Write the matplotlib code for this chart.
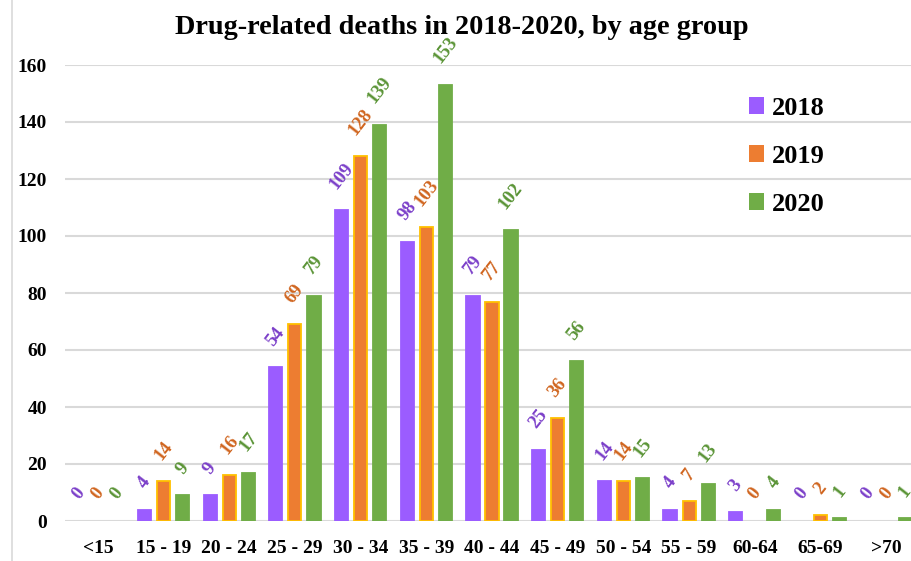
import numpy as np
import matplotlib
matplotlib.use("Agg")
import matplotlib.pyplot as plt
from matplotlib.lines import Line2D

# Drug-related deaths per age group, three years side by side
age_groups = ["<15", "15 - 19", "20 - 24", "25 - 29", "30 - 34", "35 - 39", "40 - 44",
              "45 - 49", "50 - 54", "55 - 59", "60-64", "65-69", ">70"]
deaths_2018 = [0, 4, 9, 54, 109, 98, 79, 25, 14, 4, 3, 0, 0]
deaths_2019 = [0, 14, 16, 69, 128, 103, 77, 36, 14, 7, 0, 2, 0]
deaths_2020 = [0, 9, 17, 79, 139, 153, 102, 56, 15, 13, 4, 1, 1]
years = ["2018", "2019", "2020"]

plt.rcParams['font.family'] = ['Liberation Serif', 'DejaVu Serif']
plt.rcParams['font.weight'] = 'bold'

fill_colors = ["#9B5CFF", "#ED7D31", "#70AD47"]
edge_colors = ["#9B5CFF", "#FFC000", "#70AD47"]
label_colors = ["#7B3FC9", "#D0651F", "#5A9436"]

fig = plt.figure(figsize=(9.11, 5.61), dpi=100)
ax = fig.add_axes([65 / 911, 40 / 561, 854 / 911, 456 / 561])

x = np.arange(len(age_groups))
offsets = [-0.29, 0.0, 0.29]
width = 0.2

series = [deaths_2018, deaths_2019, deaths_2020]
for i, vals in enumerate(series):
    # zero-height bars get no outline so nothing shows on the baseline
    edges = [edge_colors[i] if v > 0 else "none" for v in vals]
    bars = ax.bar(x + offsets[i], vals, width, color=fill_colors[i],
                  edgecolor=edges, linewidth=1.3, label=years[i], zorder=3)
    for b, v in zip(bars, vals):
        ax.annotate(str(v), (b.get_x() + b.get_width() / 2, v),
                    xytext=(0, 13), textcoords="offset points",
                    ha="center", va="bottom", rotation=52,
                    fontsize=13.5, fontweight="bold", color=label_colors[i],
                    annotation_clip=False, zorder=4)

ax.set_xlim(-0.5, len(age_groups) - 0.5)
ax.set_ylim(0, 160)
ax.set_yticks(range(0, 161, 20))
ax.set_xticks(x)
ax.set_xticklabels(age_groups)
ax.tick_params(axis="both", length=0, labelsize=14)
ax.tick_params(axis="y", pad=13)
ax.tick_params(axis="x", pad=14)
ax.grid(axis="y", color="#D9D9D9", linewidth=1.5, zorder=0)
for s in ax.spines.values():
    s.set_visible(False)

leg = ax.legend(loc="upper left", bbox_to_anchor=(738 / 911, 1 - 86 / 561),
                bbox_transform=fig.transFigure, frameon=False, fontsize=19,
                handlelength=0.6, handleheight=0.6, handletextpad=0.3,
                labelspacing=0.95, borderaxespad=0)
for h in leg.legend_handles:
    h.set_linewidth(1.0)

fig.text(462 / 911, 1 - 27 / 561, "Drug-related deaths in 2018-2020, by age group",
         ha="center", va="center", fontsize=20.3, fontweight="bold")

# thin frame line on the left edge
fig.add_artist(Line2D([12 / 911, 12 / 911], [0, 1], transform=fig.transFigure,
                      color="#D9D9D9", linewidth=1.2))

fig.savefig("out.png", dpi=100)
